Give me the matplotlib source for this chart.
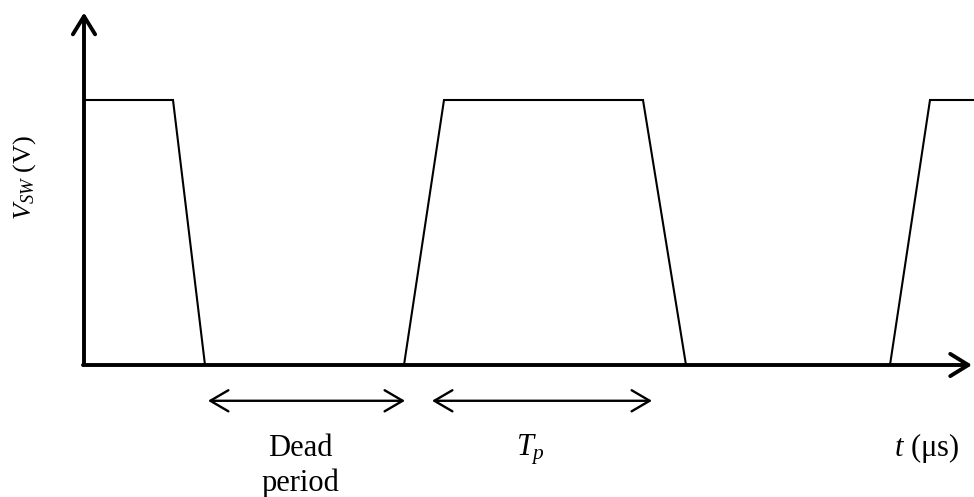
import matplotlib
matplotlib.use('Agg')
import matplotlib.pyplot as plt

# switching node waveform (t in arbitrary units, v normalised to the high level)
t_wave = [2, 89, 121, 320, 360, 559, 602, 806, 846, 890]
v_wave = [1, 1, 0, 0, 1, 1, 0, 0, 1, 1]

# spans marked under the time axis
dead_span = [124, 321]
tp_span = [348, 568]

plt.rcParams['font.family'] = 'Liberation Serif'
plt.rcParams['mathtext.fontset'] = 'custom'
plt.rcParams['mathtext.rm'] = 'Liberation Serif'
plt.rcParams['mathtext.it'] = 'Liberation Serif:italic'

fig = plt.figure(figsize=(9.74, 4.97), dpi=100)
ax = fig.add_axes([0, 0, 1, 1])
ax.set_xlim(-84, 890)
ax.set_ylim((365 - 497) / 265, 365 / 265)
ax.axis('off')

ax.plot(t_wave, v_wave, color='black', lw=1.5, solid_joinstyle='miter')

# axes with open arrow heads
ax_arrow = dict(arrowstyle='->,head_length=0.65,head_width=0.4', lw=2.8,
                color='black', shrinkA=0, shrinkB=0, mutation_scale=20)
ax.annotate('', xy=(0, 1.33), xytext=(0, 0), arrowprops=ax_arrow)
ax.annotate('', xy=(888, 0), xytext=(-1, 0), arrowprops=ax_arrow)

span_arrow = dict(arrowstyle='<->,head_length=0.65,head_width=0.38', lw=1.7,
                  color='black', shrinkA=0, shrinkB=0, mutation_scale=20)
ax.annotate('', xy=(dead_span[1], -0.135), xytext=(dead_span[0], -0.135),
            arrowprops=span_arrow)
ax.annotate('', xy=(tp_span[1], -0.135), xytext=(tp_span[0], -0.135),
            arrowprops=span_arrow)

fs = 22
ax.text(216, -0.343, 'Dead', ha='center', va='baseline', fontsize=fs)
ax.text(216, -0.475, 'period', ha='center', va='baseline', fontsize=fs)
ax.text(447, -0.343, r'$T_p$', ha='center', va='baseline', fontsize=fs)
ax.text(843, -0.343, r'$t$ (μs)', ha='center', va='baseline', fontsize=fs)
ax.text(-59, 0.709, r'$V_{SW}$ (V)', ha='center', va='center',
        rotation=90, fontsize=19)

fig.savefig('out.png', dpi=100)
